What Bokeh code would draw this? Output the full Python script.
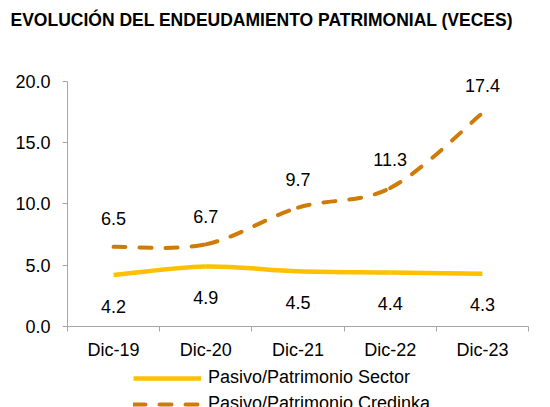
from bokeh.plotting import figure
from bokeh.layouts import column
from bokeh.models import (Range1d, FixedTicker, Legend, LegendItem, Title,
                          ColumnDataSource)
from bokeh.embed import file_html
from bokeh.resources import INLINE

# ---- data ----
categories = ["Dic-19", "Dic-20", "Dic-21", "Dic-22", "Dic-23"]
sector = [4.2, 4.9, 4.5, 4.4, 4.3]
credinka = [6.5, 6.7, 9.7, 11.3, 17.4]
y_ticks = [0, 5, 10, 15, 20]
y_tick_labels = ["0.0", "5.0", "10.0", "15.0", "20.0"]
title_text = "EVOLUCIÓN DEL ENDEUDAMIENTO PATRIMONIAL (VECES)"
name_sector = "Pasivo/Patrimonio Sector"
name_credinka = "Pasivo/Patrimonio Credinka"

FONT = "Liberation Sans"
YELLOW = "#FFC000"
ORANGE = "#D07A08"
GRAY = "#A6A6A6"
W = 550

xs = [i + 0.5 for i in range(len(categories))]

# ---------- chart ----------
Y_MAX = 20
Y_TOP = Y_MAX * 267 / 247   # room above the 20.0 tick for the top label

p = figure(width=W, height=362, output_backend="svg", toolbar_location=None,
           x_range=Range1d(0, len(categories)), y_range=Range1d(0, Y_TOP),
           min_border_left=67, min_border_right=22, min_border_top=61,
           min_border_bottom=34, outline_line_color=None)
p.xgrid.visible = False
p.ygrid.visible = False

# spacer (closest to the frame), then the real title above it
p.add_layout(Title(text=" ", text_font_size="1px", standoff=29), "above")
p.add_layout(Title(text=title_text, align="left", offset=-57, standoff=0,
                   text_font=FONT, text_font_size="17.5px",
                   text_font_style="bold", text_color="black"), "above")

xa = p.xaxis[0]
xa.ticker = FixedTicker(ticks=xs, minor_ticks=list(range(len(categories) + 1)))
xa.major_label_overrides = {x: c for x, c in zip(xs, categories)}
xa.major_tick_out = 0
xa.major_tick_in = 0
xa.minor_tick_out = 5
xa.minor_tick_in = 0
xa.minor_tick_line_color = GRAY
xa.axis_line_color = GRAY
xa.major_label_standoff = 8
xa.major_label_text_font = FONT
xa.major_label_text_font_size = "18px"
xa.major_label_text_color = "black"

ya = p.yaxis[0]
ya.ticker = FixedTicker(ticks=y_ticks, minor_ticks=[])
ya.bounds = (0, Y_MAX)
ya.major_label_overrides = {v: l for v, l in zip(y_ticks, y_tick_labels)}
ya.major_tick_out = 5
ya.major_tick_in = 0
ya.major_tick_line_color = GRAY
ya.axis_line_color = GRAY
ya.major_label_standoff = 12
ya.major_label_text_font = FONT
ya.major_label_text_font_size = "18px"
ya.major_label_text_color = "black"


def smooth(xv, yv, k=1.0 / 6.0):
    n = len(xv)
    seg = dict(x0=[], y0=[], x1=[], y1=[], cx0=[], cy0=[], cx1=[], cy1=[])
    for i in range(n - 1):
        a = max(i - 1, 0)
        b = min(i + 2, n - 1)
        seg["x0"].append(xv[i]); seg["y0"].append(yv[i])
        seg["x1"].append(xv[i + 1]); seg["y1"].append(yv[i + 1])
        seg["cx0"].append(xv[i] + (xv[i + 1] - xv[a]) * k)
        seg["cy0"].append(yv[i] + (yv[i + 1] - yv[a]) * k)
        seg["cx1"].append(xv[i + 1] - (xv[b] - xv[i]) * k)
        seg["cy1"].append(yv[i + 1] - (yv[b] - yv[i]) * k)
    return ColumnDataSource(seg)


p.bezier(x0="x0", y0="y0", x1="x1", y1="y1", cx0="cx0", cy0="cy0",
         cx1="cx1", cy1="cy1", source=smooth(xs, sector),
         line_color=YELLOW, line_width=4.5)
p.bezier(x0="x0", y0="y0", x1="x1", y1="y1", cx0="cx0", cy0="cy0",
         cx1="cx1", cy1="cy1", source=smooth(xs, credinka),
         line_color=ORANGE, line_width=4, line_dash="12 14", line_cap="round")

p.text(x=xs, y=sector, text=[f"{v:.1f}" for v in sector], y_offset=31,
       text_align="center", text_baseline="middle", text_font_size="18px",
       text_font={"value": FONT}, text_color="black")
p.text(x=xs, y=credinka, text=[f"{v:.1f}" for v in credinka], y_offset=-28,
       text_align="center", text_baseline="middle", text_font_size="18px",
       text_font={"value": FONT}, text_color="black")

# ---------- legend strip (frame aligned with the chart's frame) ----------
lg = figure(width=W, height=45, output_backend="svg", toolbar_location=None,
            x_range=Range1d(0, 1), y_range=Range1d(0, 1),
            x_axis_type=None, y_axis_type=None, min_border=0,
            outline_line_color=None)
lg.grid.visible = False
# the legend renderers draw nothing inside the strip (points lie outside its range)
r1 = lg.line(x=[5, 6], y=[5, 6], line_color=YELLOW, line_width=4.5)
r2 = lg.line(x=[5, 6], y=[5, 6], line_color=ORANGE, line_width=4,
             line_dash="12 14", line_cap="round")
legend = Legend(items=[LegendItem(label=name_sector, renderers=[r1]),
                       LegendItem(label=name_credinka, renderers=[r2])],
                location=(66, -7), glyph_width=68, glyph_height=20,
                label_height=20, label_standoff=7, spacing=5, padding=0,
                margin=0, border_line_color=None, background_fill_alpha=0,
                label_text_font=FONT, label_text_font_size="18px",
                label_text_color="black")
lg.add_layout(legend)

layout = column(p, lg, spacing=0)
open("out.html", "w").write(file_html(layout, INLINE))
